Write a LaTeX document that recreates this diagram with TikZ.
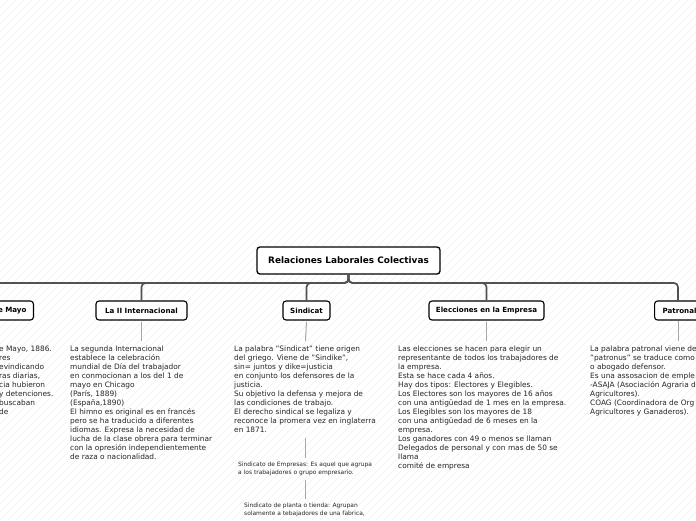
\documentclass[tikz,border=0pt]{standalone}
\usepackage{fontspec}
\setmainfont{DejaVu Sans}
\begin{document}
\begin{tikzpicture}[x=1pt,y=-1pt,
  rootbox/.style={draw=black, line width=1.3pt, rounded corners=3pt, fill=white,
    font=\bfseries\fontsize{8.9}{10}\selectfont, minimum height=27pt, inner sep=0pt},
  childbox/.style={draw=black, line width=1.1pt, rounded corners=3pt, fill=white,
    font=\bfseries\fontsize{7.1}{8}\selectfont, minimum height=19pt, inner sep=0pt},
  bodytext/.style={align=left, anchor=north west, inner sep=0pt, text=black!85,
    font=\fontsize{7.4}{9}\selectfont},
  smalltext/.style={align=left, anchor=north west, inner sep=0pt, text=black!85,
    font=\fontsize{5.95}{7.6}\selectfont},
  bus/.style={draw=black!68, line width=1.7pt, rounded corners=4pt},
  stem/.style={draw=black!35, line width=1pt},
  stripe/.style={draw=black!5, line width=0.6pt}
]
\useasboundingbox (0,0) rectangle (696,520);
\fill[white] (0,0) rectangle (696,520);
\begin{scope}
\clip (0,0) rectangle (696,520);
\foreach \c in {-528,-520,...,696} {\draw[stripe] (\c,520) -- (\c+520,0);}
\end{scope}

% root
\node[rootbox, minimum width=183pt] (root) at (348.5,260.5) {Relaciones Laborales Colectivas};

% children
\node[childbox, text width=62pt, align=right, inner xsep=7pt, anchor=east] (mayo) at (34,310.5) {1 de Mayo};
\node[childbox, minimum width=91pt] (inter) at (141.5,310.5) {La II Internacional};
\node[childbox, minimum width=47pt] (sind) at (306.5,310.5) {Sindicat};
\node[childbox, minimum width=115pt] (elec) at (486.5,310.5) {Elecciones en la Empresa};
\node[childbox, minimum width=50pt, anchor=west] (patr) at (654,310.5) {Patronal};

% connectors
\coordinate (j) at (348.5,283);
\coordinate (pj) at (678,301);
\draw[bus] (root.south) -- (j) -| (mayo.north);
\draw[bus] (root.south) -- (j) -| (inter.north);
\draw[bus] (root.south) -- (j) -| (sind.north);
\draw[bus] (root.south) -- (j) -| (elec.north);
\draw[bus] (root.south) -- (j) -| (pj);

% stems below children
\coordinate (ie) at (141.5,341);
\coordinate (se) at (305.5,341);
\coordinate (ee) at (486.5,341);
\coordinate (pe) at (678,341);
\coordinate (ps) at (678,321);
\draw[stem] ([yshift=-1pt]inter.south) -- (ie);
\draw[stem] ([yshift=-1pt]sind.south) -- (se);
\draw[stem] ([yshift=-1pt]elec.south) -- (ee);
\draw[stem] (ps) -- (pe);

% body texts
\node[bodytext] (tmayo) at (-1,345.5) {e Mayo, 1886.\\res\\evindicando\\ras diarias,\\cia hubieron\\y detenciones.\\buscaban\\de};

\node[bodytext] (tinter) at (70,345.5) {La segunda Internacional\\establece la celebración\\mundial de Día del trabajador\\en conmocionan a los del 1 de\\mayo en Chicago\\(París, 1889)\\(España,1890)\\El himno es original es en francés\\pero se ha traducido a diferentes\\idiomas. Expresa la necesidad de\\lucha de la clase obrera para terminar\\con la opresión independientemente\\de raza o nacionalidad.};

\node[bodytext] (tsind) at (234,345.5) {La palabra "Sindicat" tiene origen\\del griego. Viene de "Sindike",\\sin= juntos y dike=justicia\\en conjunto los defensores de la\\justicia.\\Su objetivo la defensa y mejora de\\las condiciones de trabajo.\\El derecho sindical se legaliza y\\reconoce la promera vez en inglaterra\\en 1871.};

\node[bodytext] (telec) at (398,345.5) {Las elecciones se hacen para elegir un\\representante de todos los trabajadores de\\la empresa.\\Esta se hace cada 4 años.\\Hay dos tipos: Electores y Elegibles.\\Los Electores son los mayores de 16 años\\con una antigüedad de 1 mes en la empresa.\\Los Elegibles son los mayores de 18\\con una antigüedad de 6 meses en la\\empresa.\\Los ganadores con 49 o menos se llaman\\Delegados de personal y con mas de 50 se\\llama\\comité de empresa};

\node[bodytext] (tpatr) at (590,345.5) {La palabra patronal viene de\\"patronus" se traduce como\\o abogado defensor.\\Es una assosacion de emple\\-ASAJA (Asociación Agraria d\\Agricultores).\\COAG (Coordinadora de Org\\Agricultores y Ganaderos).};

% Sindicat sub-items
\coordinate (s1a) at (305.5,438);
\coordinate (s1b) at (305.5,458);
\draw[stem] (s1a) -- (s1b);
\node[smalltext] (emp) at (238,462) {Sindicato de Empresas: Es aquel que agrupa\\a los trabajadores o grupo empresario.};
\coordinate (s2a) at (305.5,480);
\coordinate (s2b) at (305.5,499);
\draw[stem] (s2a) -- (s2b);
\node[smalltext] (plan) at (244,503) {Sindicato de planta o tienda: Agrupan\\solamente a tebajadores de una fabrica,};
\end{tikzpicture}
\end{document}
